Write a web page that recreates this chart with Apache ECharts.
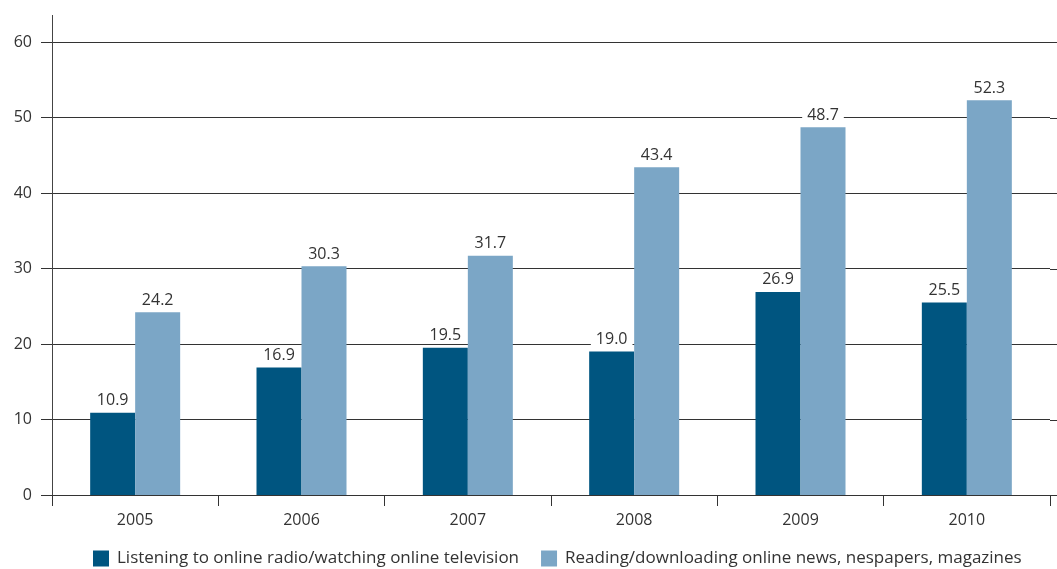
<!DOCTYPE html>
<html>
<head>
<meta charset="utf-8">
<script src="https://cdn.jsdelivr.net/npm/echarts@6/dist/echarts.min.js"></script>
<style>html,body{margin:0;padding:0;background:#fff}#c{width:1057px;height:569px}</style>
</head>
<body>
<div id="c"></div>
<script>
const categories = ['2005', '2006', '2007', '2008', '2009', '2010'];
const radioTv = [10.9, 16.9, 19.5, 19.0, 26.9, 25.5];
const newsMagazines = [24.2, 30.3, 31.7, 43.4, 48.7, 52.3];
const seriesNames = ['Listening to online radio/watching online television', 'Reading/downloading online news, nespapers, magazines'];
const yTicks = [0, 10, 20, 30, 40, 50, 60];

const FONT = 'Open Sans';
const chart = echarts.init(document.getElementById('c'), null, {renderer: 'canvas'});
const labelStyle = {
  show: true, position: 'top', distance: 4,
  formatter: p => p.value.toFixed(1),
  fontFamily: FONT, fontSize: 16, color: '#333',
  backgroundColor: '#fff', padding: [2, 5, 0, 5]
};
chart.setOption({
  animation: false,
  textStyle: {fontFamily: FONT},
  grid: {left: 52, right: 7, top: 42, bottom: 74},
  legend: {
    top: 547, left: 93, itemGap: 22, itemWidth: 16, itemHeight: 16,
    icon: 'rect', padding: [3, 5, 0, 0],
    textStyle: {fontFamily: FONT, fontSize: 17, color: '#333', padding: [0, 0, 0, 3]},
    data: seriesNames
  },
  xAxis: {
    type: 'category', data: categories,
    axisLine: {lineStyle: {color: '#333', width: 1}},
    axisTick: {show: true, length: 11, lineStyle: {color: '#333'}},
    axisLabel: {fontFamily: FONT, fontSize: 16, color: '#333', margin: 17}
  },
  yAxis: {
    type: 'value', min: 0, max: 60, interval: 10,
    axisLine: {show: true, lineStyle: {color: '#444', width: 1}},
    axisTick: {show: true, length: 11, lineStyle: {color: '#333'}},
    axisLabel: {fontFamily: FONT, fontSize: 16, color: '#333', margin: 20,
      formatter: v => yTicks.includes(v) ? String(v) : ''},
    splitLine: {show: true, lineStyle: {color: '#333', width: 1}}
  },
  series: [
    {name: seriesNames[0], type: 'bar', data: radioTv, barWidth: 45, barGap: '0%',
      itemStyle: {color: '#005580'}, label: labelStyle},
    {name: seriesNames[1], type: 'bar', data: newsMagazines, barWidth: 45, barGap: '0%',
      itemStyle: {color: '#7ba6c6'}, label: labelStyle}
  ]
});

// decorative extensions of axis lines (derived from chart scale)
const rect = chart.getModel().getComponent('grid').coordinateSystem.getRect();
const g = [];
g.push({type: 'line', shape: {x1: rect.x + 0.5, y1: rect.y - 27, x2: rect.x + 0.5, y2: rect.y},
  style: {stroke: '#444', lineWidth: 1}});
yTicks.forEach(v => {
  const y = Math.round(chart.convertToPixel({yAxisIndex: 0}, v)) + 0.5;
  g.push({type: 'line', shape: {x1: rect.x + rect.width, y1: y, x2: 1057, y2: y},
    style: {stroke: '#333', lineWidth: 1}, z: 0});
});
chart.setOption({graphic: g});
</script>
</body>
</html>
